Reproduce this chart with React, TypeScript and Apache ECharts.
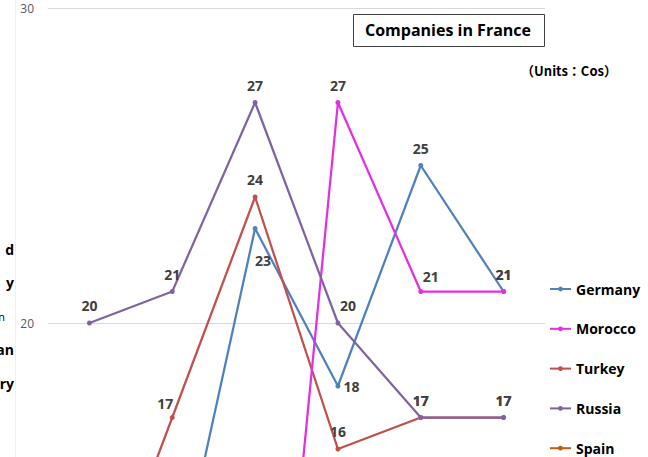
import React, { useEffect, useRef } from "react";
import * as echarts from "echarts";

const categories = ["C1", "C2", "C3", "C4", "C5", "C6"];
const germany = [0, 11, 23, 18, 25, 21];
const morocco = [0, 0, 0, 27, 21, 21];
const turkey = [10, 17, 24, 16, 17, 17];
const russia = [20, 21, 27, 20, 17, 17];
const spain = [0, 0, 0, 0, 0, 0];
const yTicks = [0, 10, 20, 30];
const sideTexts = ["d", "y", "n", "an", "ary"];

const FONT = "'Open Sans', 'Noto Sans', sans-serif";

export default function App() {
  const ref = useRef<HTMLDivElement>(null);
  useEffect(() => {
    if (!ref.current) return;
    const chart = echarts.init(ref.current, undefined, { renderer: "svg" });

    const baseLabel = {
      show: true,
      position: "top",
      distance: 8,
      fontFamily: FONT,
      fontWeight: "bold",
      fontSize: 14,
      color: "#404040",
    };
    // per-point label tweaks (style only)
    const labelTweaks: Record<string, any> = {
      "Germany-2": { position: "bottom", distance: 22, offset: [8, 0] },
      "Germany-3": { position: "right", distance: 3 },
      "Morocco-4": { offset: [10, 2] },
      "Russia-3": { offset: [10, 0] },
      "Turkey-1": { offset: [-7, 3] },
    };
    const mk = (name: string, values: number[], color: string) => ({
      name,
      type: "line",
      data: values.map((v, i) => {
        const t = labelTweaks[name + "-" + i];
        return t ? { value: v, label: { ...baseLabel, ...t } } : { value: v };
      }),
      symbol: "circle",
      symbolSize: 5,
      lineStyle: { width: 2.25, color },
      itemStyle: { color },
      label: baseLabel,
      z: 2,
    });

    chart.setOption({
      animation: false,
      grid: { left: 48, right: 103, top: 8, height: 945 },
      xAxis: {
        type: "category",
        data: categories,
        boundaryGap: true,
        axisLine: { show: false },
        axisTick: { show: false },
        axisLabel: { show: false },
      },
      yAxis: {
        type: "value",
        min: yTicks[0],
        max: yTicks[yTicks.length - 1],
        interval: 10,
        axisLine: { show: false },
        axisTick: { show: false },
        axisLabel: { margin: 14, fontFamily: FONT, fontSize: 12, color: "#595959" },
        splitLine: { lineStyle: { color: "#D9D9D9", width: 1 } },
      },
      legend: {
        orient: "vertical",
        left: 549,
        top: 282,
        padding: 0,
        itemWidth: 21,
        itemHeight: 6,
        itemGap: 25.8,
        textStyle: { fontFamily: FONT, fontWeight: "bold", fontSize: 14, color: "#000" },
        data: ["Germany", "Morocco", "Turkey", "Russia", "Spain"],
      },
      series: [
        mk("Spain", spain, "#C55A11"),
        mk("Germany", germany, "#4F81BD"),
        mk("Turkey", turkey, "#C0504D"),
        mk("Morocco", morocco, "#E32FE3"),
        mk("Russia", russia, "#8064A2"),
      ],
      graphic: [
        { type: "line", shape: { x1: 15.5, y1: 0, x2: 15.5, y2: 1000 }, style: { stroke: "#EFEFEF", lineWidth: 1 } },
        {
          type: "rect",
          shape: { x: 353.5, y: 14.5, width: 191, height: 32 },
          style: { fill: "#fff", stroke: "#404040", lineWidth: 1 },
        },
        {
          type: "text",
          x: 448,
          y: 30,
          style: {
            text: "Companies in France",
            fontFamily: FONT,
            fontWeight: "bold",
            fontSize: 16,
            fill: "#000",
            align: "center",
            verticalAlign: "middle",
          },
        },
        {
          type: "text",
          x: 569,
          y: 70,
          style: {
            text: "（Units：Cos）",
            fontFamily: "'Noto Sans CJK JP', sans-serif",
            fontWeight: "bold",
            fontSize: 13,
            fill: "#000",
            align: "center",
            verticalAlign: "middle",
          },
        },
        ...sideTexts.map((t, i) => ({
          type: "text",
          x: i === 2 ? 5 : 14,
          y: 249 + i * 33.5,
          style: {
            text: t,
            fontFamily: FONT,
            fontWeight: i === 2 ? "normal" : "bold",
            fontSize: i === 2 ? 11 : 14,
            fill: "#000",
            align: "right",
            verticalAlign: "middle",
          },
        })),
      ],
    });
    return () => chart.dispose();
  }, []);

  return (
    <div style={{ position: "fixed", left: 0, top: 0, width: 648, height: 457, overflow: "hidden", background: "#fff" }}>
      <div ref={ref} style={{ width: 648, height: 1000 }} />
    </div>
  );
}
